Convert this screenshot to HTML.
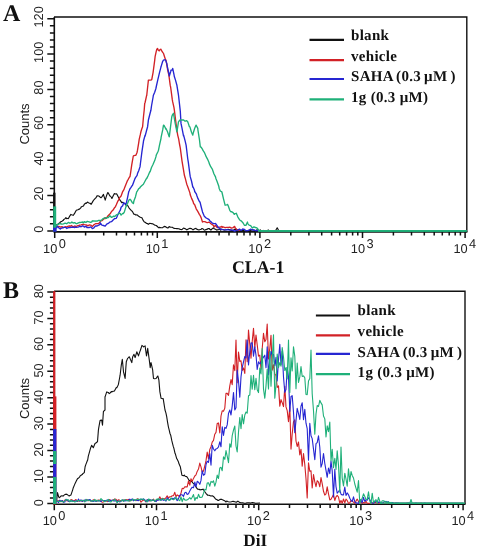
<!DOCTYPE html><html><head><meta charset="utf-8"><style>
html,body{margin:0;padding:0;background:#fff;width:478px;height:550px;overflow:hidden}
svg{display:block;will-change:transform}text{text-rendering:geometricPrecision}
.tl{font-family:"Liberation Sans",sans-serif;font-size:12.8px;fill:#222}
.cl{font-family:"Liberation Sans",sans-serif;font-size:13px;fill:#222}
.xl{font-family:"Liberation Sans",sans-serif;font-size:12.8px;fill:#222}
.ax{font-family:"Liberation Serif",serif;font-size:17px;font-weight:bold;fill:#111}
.pl{font-family:"Liberation Serif",serif;font-size:24px;font-weight:bold;fill:#111}
.lg{font-family:"Liberation Serif",serif;font-size:15px;font-weight:bold;fill:#111;letter-spacing:0.3px}
</style></head><body>
<svg width="478" height="550" viewBox="0 0 478 550">
<path d="M54 17 H466.8 V231.7" fill="none" stroke="#111" stroke-width="1.4"/>
<path d="M54.3 17 V231.9 H467.4" fill="none" stroke="#111" stroke-width="1.6"/>
<path d="M47.3 230.9H54.3M49.9 223.8H54.3M49.9 216.8H54.3M49.9 209.7H54.3M49.9 202.6H54.3M47.3 195.5H54.3M49.9 188.5H54.3M49.9 181.4H54.3M49.9 174.3H54.3M49.9 167.2H54.3M47.3 160.2H54.3M49.9 153.1H54.3M49.9 146H54.3M49.9 138.9H54.3M49.9 131.9H54.3M47.3 124.8H54.3M49.9 117.7H54.3M49.9 110.7H54.3M49.9 103.6H54.3M49.9 96.5H54.3M47.3 89.4H54.3M49.9 82.4H54.3M49.9 75.3H54.3M49.9 68.2H54.3M49.9 61.1H54.3M47.3 54.1H54.3M49.9 47H54.3M49.9 39.9H54.3M49.9 32.9H54.3M49.9 25.8H54.3M47.3 18.7H54.3" stroke="#111" stroke-width="1.5" fill="none"/>
<text x="0" y="0" transform="translate(43.4 229.1) rotate(-90)" text-anchor="middle" class="tl">0</text>
<text x="0" y="0" transform="translate(43.4 193.7) rotate(-90)" text-anchor="middle" class="tl">20</text>
<text x="0" y="0" transform="translate(43.4 158.4) rotate(-90)" text-anchor="middle" class="tl">40</text>
<text x="0" y="0" transform="translate(43.4 123) rotate(-90)" text-anchor="middle" class="tl">60</text>
<text x="0" y="0" transform="translate(43.4 87.6) rotate(-90)" text-anchor="middle" class="tl">80</text>
<text x="0" y="0" transform="translate(43.4 52.3) rotate(-90)" text-anchor="middle" class="tl">100</text>
<text x="0" y="0" transform="translate(43.4 16.9) rotate(-90)" text-anchor="middle" class="tl">120</text>
<text transform="translate(28.8 124) rotate(-90)" text-anchor="middle" class="cl">Counts</text>
<path d="M54.7 231.7v6.3M85.6 231.7v3.9M103.7 231.7v3.9M116.5 231.7v3.9M126.4 231.7v3.9M134.5 231.7v3.9M141.4 231.7v3.9M147.4 231.7v3.9M152.6 231.7v3.9M157.3 231.7v6.3M188.2 231.7v3.9M206.3 231.7v3.9M219.1 231.7v3.9M229 231.7v3.9M237.1 231.7v3.9M244 231.7v3.9M250 231.7v3.9M255.2 231.7v3.9M259.9 231.7v6.3M290.8 231.7v3.9M308.9 231.7v3.9M321.7 231.7v3.9M331.6 231.7v3.9M339.7 231.7v3.9M346.6 231.7v3.9M352.6 231.7v3.9M357.8 231.7v3.9M362.5 231.7v6.3M393.4 231.7v3.9M411.5 231.7v3.9M424.3 231.7v3.9M434.2 231.7v3.9M442.3 231.7v3.9M449.2 231.7v3.9M455.2 231.7v3.9M460.4 231.7v3.9M465.1 231.7v6.3" stroke="#111" stroke-width="1.5" fill="none"/>
<text x="57.3" y="252.8" text-anchor="end" class="xl">10</text>
<text x="58.7" y="247.60000000000002" class="xl">0</text>
<text x="159.9" y="252.8" text-anchor="end" class="xl">10</text>
<text x="161.3" y="247.60000000000002" class="xl">1</text>
<text x="262.5" y="252.8" text-anchor="end" class="xl">10</text>
<text x="263.9" y="247.60000000000002" class="xl">2</text>
<text x="365.1" y="252.8" text-anchor="end" class="xl">10</text>
<text x="366.5" y="247.60000000000002" class="xl">3</text>
<text x="467.7" y="252.8" text-anchor="end" class="xl">10</text>
<text x="469.1" y="247.60000000000002" class="xl">4</text>
<text x="258.2" y="272.6" text-anchor="middle" class="ax" style="font-size:17.8px">CLA-1</text>
<text x="3" y="20.7" class="pl">A</text>
<path d="M309.5 39.8H344" stroke="#111" stroke-width="2.2"/>
<text x="351" y="40.4" class="lg">blank</text>
<path d="M309.5 60.2H344" stroke="#d22126" stroke-width="2.2"/>
<text x="351" y="60.7" class="lg">vehicle</text>
<path d="M309.5 79.0H344" stroke="#2626d2" stroke-width="2.2"/>
<text x="351" y="81.1" class="lg" style="word-spacing:-1px">SAHA (0.3 μM )</text>
<path d="M309.5 99.4H344" stroke="#1fb079" stroke-width="2.2"/>
<text x="351" y="101.5" class="lg">1g (0.3 μM)</text>
<path d="M54 291.2 H465 V504" fill="none" stroke="#111" stroke-width="1.4"/>
<path d="M54.3 291.2 V504.2 H465.6" fill="none" stroke="#111" stroke-width="1.6"/>
<path d="M47.3 503.4H54.3M49.9 498.1H54.3M49.9 492.8H54.3M49.9 487.5H54.3M49.9 482.3H54.3M47.3 477H54.3M49.9 471.7H54.3M49.9 466.4H54.3M49.9 461.1H54.3M49.9 455.8H54.3M47.3 450.5H54.3M49.9 445.3H54.3M49.9 440H54.3M49.9 434.7H54.3M49.9 429.4H54.3M47.3 424.1H54.3M49.9 418.8H54.3M49.9 413.6H54.3M49.9 408.3H54.3M49.9 403H54.3M47.3 397.7H54.3M49.9 392.4H54.3M49.9 387.1H54.3M49.9 381.8H54.3M49.9 376.6H54.3M47.3 371.3H54.3M49.9 366H54.3M49.9 360.7H54.3M49.9 355.4H54.3M49.9 350.1H54.3M47.3 344.8H54.3M49.9 339.6H54.3M49.9 334.3H54.3M49.9 329H54.3M49.9 323.7H54.3M47.3 318.4H54.3M49.9 313.1H54.3M49.9 307.9H54.3M49.9 302.6H54.3M49.9 297.3H54.3M47.3 292H54.3" stroke="#111" stroke-width="1.5" fill="none"/>
<text x="0" y="0" transform="translate(43.4 502.6) rotate(-90)" text-anchor="middle" class="tl">0</text>
<text x="0" y="0" transform="translate(43.4 476.2) rotate(-90)" text-anchor="middle" class="tl">10</text>
<text x="0" y="0" transform="translate(43.4 449.7) rotate(-90)" text-anchor="middle" class="tl">20</text>
<text x="0" y="0" transform="translate(43.4 423.3) rotate(-90)" text-anchor="middle" class="tl">30</text>
<text x="0" y="0" transform="translate(43.4 396.9) rotate(-90)" text-anchor="middle" class="tl">40</text>
<text x="0" y="0" transform="translate(43.4 370.5) rotate(-90)" text-anchor="middle" class="tl">50</text>
<text x="0" y="0" transform="translate(43.4 344) rotate(-90)" text-anchor="middle" class="tl">60</text>
<text x="0" y="0" transform="translate(43.4 317.6) rotate(-90)" text-anchor="middle" class="tl">70</text>
<text x="0" y="0" transform="translate(43.4 291.2) rotate(-90)" text-anchor="middle" class="tl">80</text>
<text transform="translate(28.8 398.5) rotate(-90)" text-anchor="middle" class="cl">Counts</text>
<path d="M54.3 504v6.3M85.1 504v3.9M103.1 504v3.9M115.8 504v3.9M125.7 504v3.9M133.8 504v3.9M140.7 504v3.9M146.6 504v3.9M151.8 504v3.9M156.5 504v6.3M187.3 504v3.9M205.3 504v3.9M218 504v3.9M227.9 504v3.9M236 504v3.9M242.9 504v3.9M248.8 504v3.9M254 504v3.9M258.7 504v6.3M289.5 504v3.9M307.5 504v3.9M320.2 504v3.9M330.1 504v3.9M338.2 504v3.9M345.1 504v3.9M351 504v3.9M356.2 504v3.9M360.9 504v6.3M391.7 504v3.9M409.7 504v3.9M422.4 504v3.9M432.3 504v3.9M440.4 504v3.9M447.3 504v3.9M453.2 504v3.9M458.4 504v3.9M463.1 504v6.3" stroke="#111" stroke-width="1.5" fill="none"/>
<text x="56.9" y="525.0" text-anchor="end" class="xl">10</text>
<text x="58.3" y="519.8" class="xl">0</text>
<text x="159.1" y="525.0" text-anchor="end" class="xl">10</text>
<text x="160.5" y="519.8" class="xl">1</text>
<text x="261.3" y="525.0" text-anchor="end" class="xl">10</text>
<text x="262.7" y="519.8" class="xl">2</text>
<text x="363.5" y="525.0" text-anchor="end" class="xl">10</text>
<text x="364.9" y="519.8" class="xl">3</text>
<text x="465.7" y="525.0" text-anchor="end" class="xl">10</text>
<text x="467.1" y="519.8" class="xl">4</text>
<text x="255.2" y="545.7" text-anchor="middle" class="ax" style="font-size:17.2px">DiI</text>
<text x="3" y="297.9" class="pl">B</text>
<path d="M315.9 315.5H350" stroke="#111" stroke-width="2.2"/>
<text x="357.6" y="315.4" class="lg">blank</text>
<path d="M315.9 335.3H350" stroke="#d22126" stroke-width="2.2"/>
<text x="357.6" y="335.7" class="lg">vehicle</text>
<path d="M315.9 353.9H350" stroke="#2626d2" stroke-width="2.2"/>
<text x="357.6" y="357.3" class="lg" style="word-spacing:-1px">SAHA (0.3 μM )</text>
<path d="M315.9 374.2H350" stroke="#1fb079" stroke-width="2.2"/>
<text x="357.6" y="376.9" class="lg">1g (0.3 μM)</text>
<rect x="53.1" y="192.7" width="2.4" height="38.5" fill="#111"/>
<polyline points="55.5,224.8 55.5,224.8 57.1,224.6 57.5,224.4 58.7,223.5 60,222.8 60.3,222.1 61.9,221.2 63.4,220.3 63.5,219.7 65.1,218.6 65.9,217.7 66.7,218.7 68.3,218.3 68.4,218.6 69.9,215.8 70.9,214.4 71.5,214.8 73.1,215.3 73.4,215.2 74.7,213.1 75.9,211 76.3,210.3 77.9,209.8 78.5,209.4 79.5,209.1 81,207.7 81.1,207 82.7,206.3 83.5,206 84.3,204.2 85.9,203 86,203.5 87.5,202.1 88.5,202.7 89.1,203 90.7,203.6 91,204.4 92.3,202.4 93.5,200.2 93.9,199.9 95.5,198.1 96,197.7 97.1,195.7 98.5,196 98.7,195.9 100.3,197.2 101,197.7 101.9,196.9 103.5,194.4 103.6,195.1 105.1,199.6 105.2,200.2 106.7,195.2 107.7,192.6 108.3,193 109.9,196 110.3,196 111.5,197.5 111.9,198.5 113.1,196.1 114.4,193.5 114.7,194 116.3,193.8 116.9,194.3 117.9,196.2 119.5,199.3 119.5,199.4 121.1,201.7 121.7,202.6 122.7,202.3 124.3,203.3 125,203.5 125.9,205.1 127.5,205.2 128.4,206.8 129.1,208.1 130.7,209.8 131.7,211 132.3,211.3 133.9,214.2 135.1,214.4 135.5,215 137.1,214.8 138.4,216 138.7,216.2 140.3,217.2 141.8,217.7 141.9,217.8 143.5,220.9 144.3,221.9 145.1,222.3 146.7,223.5 147.6,223.6 148.3,224.3 149.9,223.3 151.5,223.7 151.8,223.6 153.1,224 154.7,225.1 155.1,225.2 156.3,225.5 157.9,227 158.5,227.7 159.5,227.4 161.1,227.7 162.7,227.6 163.5,226.9 164.3,226.4 165.9,226.9 167.5,227.9 168.5,227.7 169.1,226.6 170.7,227.2 172,227.2 172.3,227.2 173.9,228.4 175.5,228.5 176.9,228.6 177.1,228.5 178.7,228.8 180.3,229.4 180.3,229.3 181.9,229.6 183.5,228.1 184,228.2 185.1,228.6 186.7,229.8 187,229.8 188.3,229.1 189.9,228.3 190,228.4 191.5,228.6 193,229.9 193.1,229.8 194.7,228.8 196,228.3 196.3,229 197.9,229.6 199,229.9 199.5,229.7 201.1,229.3 202,228.5 202.7,228.7 204.3,230.2 205,230 205.9,229.6 207.5,229.1 208,228.6 209.1,228.5 210.7,230 211,230 212.3,228.6 213.9,227.8 214,228.8 215.5,229.3 217,230.2 217.1,229.7 218.7,229.6 220,229 220.3,230.2 221.9,229.2 223.5,229.7 224,230.2 225.1,230 226.7,229.8 228,229.2 228.3,229.2 229.9,229.7 231.5,230.6 232,230.4 233.1,230.4 234.7,229.3 236,229.5 236.3,229.5 237.9,230 239.5,229.9 240,230.6 241.1,230.7 242.7,230.1 244.3,231 245.9,230.6 246,230.5 247.5,230.6 249.1,230.3 250.7,230.6 252.3,229.7 253.9,230.2 255,230.8 255.5,231 257.1,229.7 258.7,231.2 260.3,229.9 261.9,231.2 263.5,230.4 265.1,231.2 266.7,230.9 268.3,230 269.9,231.4 275.5,230.8 277.2,227.8 278.8,230.8 290,231" fill="none" stroke="#111" stroke-width="1.15" stroke-linejoin="round" opacity="1"/>
<polyline points="55.5,226.5 55.5,227.4 56.7,226.1 57.1,226.2 58.7,226.4 60.3,226.9 61,227.2 61.9,226.6 63.5,227.8 65.1,226.7 66.7,227 66.7,227 68.3,226.2 69.9,225.9 70,226.3 71.5,225.5 73.1,226.9 74.7,226 75.1,226.1 76.3,226.5 77.9,225.7 79,225.6 79.5,225.1 81.1,224.8 82.7,224.3 83.5,224.4 84.3,224.7 85.9,224.9 87.5,225.5 88,225.8 89.1,224.9 90.7,225.1 92.3,226.4 93.5,225.3 93.9,224.7 95.5,223.7 97,223.6 97.1,223.7 98.7,223.5 100.2,221.9 100.3,221 101.9,220.7 103.5,219.3 105.1,217.6 105.2,218.6 106.7,217.6 108.3,215.5 109.9,214 110.3,213.6 111.5,211.5 113.1,210.1 114.7,207.4 115.3,206.9 116.3,204.8 117.9,201 118.6,200.2 119.5,197.7 121.1,196 122.7,191.6 123.6,190.1 124.3,188.6 125.9,184.6 127.5,180.5 127.8,180.1 129.1,177.7 130,176.5 130.7,172.2 131.7,165.2 132.3,161.6 133.3,156 133.9,155.7 135.5,155.3 135.9,155.2 137.1,152.2 137.5,150.2 138.7,142.9 139.2,139.3 140.3,134.7 140.9,131.8 141.9,128.5 142.6,126.7 143.5,116.5 144.2,110 144.7,103.6 145.1,102.5 146.7,95.2 146.7,95.8 148.3,81 148.4,80.2 149.9,80.1 151.5,79.8 151.8,79.3 153.1,72.3 153.4,70.1 154.7,60.4 155.1,56.7 156.3,51.1 156.8,49.2 157.6,48.4 157.9,49.8 159.3,50.9 159.5,50 161,49.2 161.1,49.9 162.7,52.4 163.5,53.4 164.3,56 165.9,60.9 166,60 167.5,69 168.5,73.5 169.1,76.9 170.2,85.2 170.7,87.5 172.3,99.7 172.7,101.9 173.9,107.2 174.4,110.3 175.5,119.3 176,123.4 177.1,131.5 177.7,135.1 178.7,139.1 179.4,143.5 180.3,148.2 181.9,160.2 181.9,160.4 183.5,169.9 184.4,175.3 185.1,177.7 186.7,183.8 186.9,184.5 188.3,188.3 189.9,192.9 190.3,195.1 191.5,198.1 193.1,201.6 193.6,203.5 194.7,204.7 196.3,209.1 197,210.2 197.9,211.7 199.5,214.6 200,215.2 201.1,217.6 202.5,222 202.7,221.6 204.3,221.6 205.9,221.8 206,222.3 207.5,222.6 209.1,222.2 210,222.8 210.7,223.5 212.3,224.7 213.4,225.3 213.9,226.8 215.5,225.5 216.7,227 217.1,227.6 218.7,227.1 220.3,227.2 221.9,226.4 222,227.3 223.5,227 225.1,227.7 226.7,227.3 228.3,227.3 229.9,227.1 230.1,227.3 231.5,228.1 233.1,227.6 234.7,226.4 235.1,227.8 236.3,228.9 236.8,230 240,230.4" fill="none" stroke="#d22126" stroke-width="1.35" stroke-linejoin="round" opacity="1"/>
<polyline points="55.5,228.3 55.5,227.1 56.7,227.8 57.1,225.9 58.7,227.7 60.3,229 61,228.3 61.9,228.2 63.5,227.4 65.1,227.4 66.7,227.8 66.7,228.5 68.3,227.7 69.9,227.5 71,227.3 71.5,227.2 73.1,227.2 74.7,227.5 75.1,227 76.3,227.3 77.9,227.1 79,226.9 79.5,226.2 81.1,226.8 82.7,225.8 83.5,226.1 84.3,227.1 85.9,226.3 87,227.5 87.5,227.4 89.1,227.6 90.7,226.9 91.8,227.8 92.3,228.6 93.9,227.8 95.5,225.9 96,226 97.1,226 98.7,225.2 100.2,224.4 100.3,222.9 101.9,225.1 103.5,225.5 105.1,226.1 105.2,226.1 106.7,224.2 108.3,223.4 109.9,222.1 110.3,221.9 111.5,221.7 113.1,220 114.7,218.6 116.3,218.3 116.9,216.9 117.9,214.6 119.5,211.5 120.3,210.2 121.1,207.3 122.7,205.7 123.6,202.7 124.3,203.5 125.9,204 126.2,203.5 127.5,197.8 128.7,191.8 129.1,190.9 130,188.7 130.7,187.9 132.3,185.4 132.5,185.3 133.9,181.4 135,178.6 135.5,177.6 137.1,175.3 137.5,173.6 138.7,170.7 140,166.9 140.3,164.5 141.7,153.5 141.9,151.8 143.4,141.8 143.5,141 145.1,135.1 145.1,136.1 146.7,130 147.6,126.7 148.3,120.9 148.4,120 149.9,114 150.9,110.3 151.5,106 153.1,97 153.4,95.2 154.7,92.2 155.9,88.5 156.3,86.5 157.9,79.4 158.5,76.8 159.5,72.7 161,66.8 161.1,66.6 162.7,61.3 163.5,60.1 164.3,59.8 165.1,59.7 165.9,60.9 166.8,63.4 167.5,67.5 169.1,74.5 169.3,76 170.7,71.5 171,70.1 172.3,69.8 172.7,68.5 173.9,74.2 174.4,76.8 175.5,80.1 176.9,85.2 177.1,86.6 178.5,95.2 178.7,97 180.2,110.3 180.3,111.3 181,123.4 181.9,127.7 183.5,135.9 183.6,135.1 185.1,140.9 186.1,145.1 186.7,150 187.7,158.5 188.3,162.1 189.9,174.3 190.3,176.9 191.5,181 192.8,187 193.1,186.9 194.4,190 194.7,191.5 196.3,193.8 197,196 197.9,198.4 199.5,201.8 200,201.9 201.1,206.5 202.5,211.9 202.7,212.6 204.3,216.2 205.9,217.8 205.9,217.7 207.5,218.7 209.1,219.6 210,221.1 210.7,221.5 212.3,223.1 213.9,223.6 215.1,223.6 215.5,223.5 217.1,225.6 218.4,227.8 218.7,227.6 220.3,228.9 221.8,229.5 221.9,229.4 223.5,229.7 225.1,229.9 226.7,229.6 228.3,229.9 229.9,230.1 230,230 231.5,230 233.1,230.3 234.7,231.2 236.3,230.4 237.9,230.1 239.5,229.1 241.1,230.4 242.7,229 244.3,229.3 245.9,230.7 247.5,230.6 249.1,230.1 250.7,229.2 252.3,230 253.9,229.9 255.5,230.7 257.7,230.3 259,231" fill="none" stroke="#2626d2" stroke-width="1.35" stroke-linejoin="round" opacity="1"/>
<polyline points="55.5,224.8 55.5,226.2 57.1,224.7 58.4,224.4 58.7,223.9 60.3,223.6 61.9,224.2 62,224.2 63.5,223.9 65.1,223.1 66.7,223.6 66.7,223.7 68.3,222.4 69.9,223.2 71.5,222.6 71.8,221.9 73.1,223 74.7,222.6 76.3,223.7 76.8,223.6 77.9,223.1 79.5,222.4 80,222.5 81.1,222.4 82.7,222 83.5,222.8 84.3,221.6 85.9,222.4 87,221.5 87.5,221.4 89.1,221.8 90.7,222.4 91.8,221.9 92.3,220.8 93.9,221 95.5,221.2 96,221 97.1,221.1 98.7,220.3 100.2,220.3 100.3,220.9 101.9,219.8 103.5,218.3 105.1,217.8 106.7,218.3 106.9,217.7 108.3,217.6 109.9,215.8 111.5,217.4 113.1,216.6 113.6,216.1 114.7,216.5 116.3,214.9 117.9,214.3 119.5,213.2 120.3,213.6 121.1,215.1 122.7,213.4 123.3,213.5 124.3,212.1 125.9,206.9 127.5,203.5 127.5,203.6 129.1,199.8 130,199.3 130.7,199.9 132.3,202.7 133.4,203.5 133.9,201 135.5,196.7 136.7,191.8 137.1,191.5 138.7,188.7 140.1,187.6 140.3,187.1 141.9,185.5 143.4,184.2 143.5,184 145.1,181 146.7,178.1 146.8,178.4 148.3,175.2 149.9,171.5 150.1,171.7 151.5,167.5 153.1,164.3 153.4,163.6 154.7,160.6 155.9,156.9 156.3,155 157.9,151.7 158.5,150.2 159.5,145.1 161,138.5 161.1,137.4 162.7,129.9 163.5,125.1 164.3,125.8 165.9,129.2 166,128.4 167.5,131.8 169.1,136.5 169.3,136.8 170.7,125.4 171.8,116.7 172.3,115.2 173.5,113.3 173.9,116 175.2,123.4 175.5,124.8 176.9,131.8 177.1,130.9 178.5,121.7 178.7,121.5 180.3,119.8 181,120 181.9,119.9 183.5,120 183.6,120 185.1,121.2 186.7,120.7 187.7,121.7 188.3,123.4 189.4,126.7 189.9,126.9 191.5,132.3 192.8,135.1 193.1,133.5 194.7,128.3 196.1,125.1 196.3,125.5 197.8,128.4 197.9,129.8 199.5,140 200.3,146.8 201.1,147.2 202.7,149.6 202.8,150.2 204.3,152.3 205.9,155.9 205.9,156.1 207.5,159.1 209.1,162.7 209.2,163.4 210.7,166.7 212.3,169.1 212.6,170.1 213.9,173.7 215.5,176.9 215.9,178.5 217.1,181.4 218.7,185.9 219.2,188.5 220.3,191 221.8,191.8 221.9,192 223.5,198.8 225.1,205.2 225.1,205.2 226.7,204.8 227.6,204.4 228.3,206 229.9,210.6 231,211.9 231.5,211.7 233.1,212.6 234.3,214.4 234.7,213.6 236,213.6 236.3,213.3 237.9,217.1 239.5,219.7 240.2,220.3 241.1,220.8 242.7,222.4 244.3,225 244.4,225.3 245.9,225.4 247.5,222 247.7,223.6 249.1,225.1 250.7,225.6 251.9,227.3 252.3,228 253.9,226.9 255.5,227.5 256.9,227.8 259.4,231 466.5,231" fill="none" stroke="#1fb079" stroke-width="1.35" stroke-linejoin="round" opacity="1"/>
<path d="M258 230.9H466.8" stroke="#1fb079" stroke-width="1.6"/>
<rect x="53.2" y="206.4" width="3.0" height="25" fill="#1fb079"/>
<rect x="53.1" y="227.7" width="3.5" height="4" fill="#2626d2"/>
<rect x="53.1" y="291.2" width="2.2" height="213" fill="#d22126"/>
<polyline points="55.5,501.5 55.5,500.9 56.7,501 57.1,496.4 57.5,492.6 58.7,496.8 59.2,497.7 60.3,496.9 60.9,496 61.9,495.8 63.4,496 63.5,495.6 65.1,494.4 66.7,494.3 66.7,494.1 68.3,495.4 69.2,496 69.9,495.6 70.9,495.1 71.5,493.3 72.6,490.1 73.1,488.3 74.7,484.4 75.1,483.4 76.3,481 77.6,478.4 77.9,478.6 79.5,477.2 80.1,475.9 81.1,475.2 82.6,474.2 82.7,473.8 84.3,472.6 84.3,472.6 85.1,466.7 85.9,464.4 87.5,460.2 87.7,460 88.3,456.1 89.1,453.3 90,450.2 90.7,447.7 91.7,445.2 92.3,446.4 93.3,447.7 93.9,446.2 95,443.5 95.5,443.3 97.1,442 97.5,441.8 98.4,430.1 98.7,428.1 100,420.9 100.3,420.4 101.7,420.1 101.9,421.3 102.5,425.1 103.4,411.7 103.5,411.4 105,410 105,397 105.1,396.8 106.7,391.9 106.7,391.9 108.3,392.4 109.2,393.6 109.9,393.2 111.5,391.5 111.7,391.9 113.1,391.2 114.3,391.1 114.7,390.4 116.3,387.5 116.8,387.7 117.9,385.5 118.4,384.4 119.5,378.5 120.1,375.2 121.1,366.7 121.3,365.1 122.3,359.3 122.7,363.3 123.5,371.8 124.3,375 125.1,378.5 125.9,367 126.3,361.8 127.5,358.6 127.6,358.5 129.1,356.8 129.3,356.8 130.7,360.1 131.8,362.6 132.3,358.9 132.7,356.8 133.9,354.6 134,354.3 135.1,357.6 135.5,356.3 136.8,351.8 137.1,352.5 138.5,355.9 138.7,355.1 140.1,350.9 140.3,350.5 141.8,345.9 141.9,345.3 143.5,346.7 143.5,346.9 145.1,345.9 145.1,346 146.5,355.9 146.7,354.8 147.7,348.4 148.3,352.9 149.3,360.1 149.9,364.9 150.2,367.7 151,362.6 151.5,364.7 152.7,370.2 153.1,374.6 153.5,378.5 154.7,378.7 156,378.5 156.3,378.1 157.7,376 157.9,376.1 158.9,380.2 159.5,387.4 159.9,391.9 161,397.8 161.1,398.3 162.7,398.8 163.2,398.6 164.3,405.7 165,410 165.9,412.9 166.7,416.7 167.5,421.8 168.4,426.8 169.1,429.7 170,433.5 170.7,435.2 171.7,440.2 172.3,442.7 173.4,446.9 173.9,448.3 175.1,453.6 175.5,454.3 176.7,458.6 177.1,459.1 178.5,462 178.7,463 180.3,466.8 180.3,466.7 181.9,475.1 181.9,475.2 183.5,475.8 184.4,475.1 185.1,476.2 186.7,476.6 186.9,476.8 188.3,479 189.5,481 189.9,480.6 191.5,481.4 192,481.8 193.1,483.1 194.5,484.4 194.7,484.9 196.3,487.4 197,488.5 197.9,489.3 199.5,489.4 200,490 201.1,489.6 202.7,489.4 203,489 204.3,491 205.9,493.3 207.5,495 207.5,495.2 209.1,495.2 210.7,495.9 212,496 212.3,495.8 213.9,496.8 215.5,498.9 217.1,499.8 218,500.5 218.7,500.4 220.3,499.2 221.9,499.4 222,499.5 223.5,500.2 225.1,501.1 226,502 226.7,501 228.3,501.7 229.9,502 231.5,501.7 232,501.5 233.1,501.4 234.7,501.8 236.3,502.3 237.9,501.1 239.5,502.4 240,502.5 241.1,502.7 242.7,502.8 244.3,503.3 245.9,503.1 247.5,502.8 249.1,502.8 250.7,503.1 252.3,502.6 253.9,502.8 255.5,503.2 260,503" fill="none" stroke="#111" stroke-width="1.1" stroke-linejoin="round" opacity="1"/>
<polyline points="56,502.2 57.2,500.7 58.5,500.7 59.8,500.9 61,501.8 62.2,500.7 63.5,501.9 64.8,500 66,500.6 67.2,500.6 68.5,501.3 69.8,501.5 71,499.6 72.2,500 73.5,500.9 74.8,500.2 76,499.5 77.2,501.4 78.5,501 79.8,501 81,500.3 82.2,501.4 83.5,500.4 84.8,501.4 86,499.9 87.2,499.9 88.5,500.7 89.8,500 91,501.1 92.2,500.8 93.5,499.8 94.8,500.6 96,500.3 97.2,501.2 98.5,500 99.8,500.2 101,501.4 102.2,502.2 103.5,502 104.8,500.5 106,500.6 107.2,501.6 108.5,500.3 109.8,499.6 111,500.5 112.2,500.7 113.5,499.7 114.8,499 116,499.2 117.2,500.9 118.5,499.7 119.8,500.2 121,500.5 122.2,500.8 123.5,500 124.8,500.7 126,499.5 127.2,499.9 128.5,499.4 129.8,501.1 131,500.2 132.2,499.6 133.5,499.9 134.8,500 136,500.7 137.2,498.8 138.5,499.3 139.8,499.8 141,502.2 142.2,500.9 143.5,500 144.8,500.7 146,501.8 147.2,499.8 148.5,499.7 149.8,501 151,500.3 152.2,500.3 153.5,499.1 154.8,501.2 156,500.9 157.2,499.6 158.5,499.6 159.8,496.7 161,499.3 162.2,498.3 163.5,498.8 164.8,498.9 166,497.6 167.2,495.9 168.5,498.1 169.8,496.7 171,496.7 172.2,495.8 173.5,495.6 174.8,492.3 176,496.8 177.2,494.9 178.5,495.8 179.8,496.8 181,493 182.2,488.3 183.5,488.7 184.8,486.7 186,486.9 187.2,486.9 188.5,480.8 189.8,485.1 191,478.7 192.2,481.4 193.5,478.4 194.8,476 196,474.8 197.2,471.4 198.5,469.1 199.8,463.1 201,466.9 202.2,472.2 203.5,471 204.8,466 206,460.7 207.2,452.1 208.5,458.8 209.8,449.4 211,446.7 212.2,442.1 213.5,440.4 214.8,434.2 216,432.4 217.2,423.5 218.5,422.9 219.8,433 221,416 222.2,410.8 223.5,411.2 224.8,408.1 226,393.3 227.2,393.4 228.5,395.4 229.8,385.9 231,379.5 232.2,384.6 233.5,364.9 234.8,370.7 236,340 237.2,382.7 238.5,352 239.8,361.4 241,360.8 242.2,370.5 243.5,367.9 244.8,373.4 246,339.9 247.2,361.7 248.5,330 249.8,344.5 251,358.1 252.2,341.6 253.5,328.4 254.8,347.8 256,335 257.2,344.6 258.5,356.1 259.8,355.1 261,369.2 262.2,348.7 263.5,333.3 264.8,341.8 266,339.6 267.2,324 268.5,359 269.8,348.6 271,335.2 272.2,370.1 273.5,364.7 274.8,374.2 276,375.3 277.2,387.4 278.5,385.9 279.8,406.1 281,399.6 282.2,402.7 283.5,406.6 284.8,386.2 286,406.9 287.2,410.6 288.5,421.7 289.8,406.7 291,449.1 292.2,434 293.5,421.7 294.8,419.9 296,441 297.2,446.5 298.5,442 299.8,455 301,449.2 302.2,466.3 303.5,453.6 304.8,464.6 306,478.7 307.2,498 308.5,462.8 309.8,471.3 311,470.8 312.2,488 313.5,474.5 314.8,481.9 316,486.6 317.2,480.7 318.5,482.1 319.8,486.8 321,477.6 322.2,483.7 323.5,491.3 324.8,495.1 326,493.9 327.2,486.9 328.5,493.8 329.8,499.9 331,499.3 332.2,497.1 333.5,494.5 334.8,500.5 336,496.8 337.2,495.4 338.5,497 339.8,503.4 341,500.5 342.2,503.3 343.5,499 344.8,502.9 346,499.1 347.2,500.5 348.5,503.4 349.8,502.8 351,500.4 352.2,501.3 353.5,502.1 354.8,503.4 356,500.9 357.2,499.1 358.5,501.4 359.8,501.9 361,502.1 362.2,503.4 363.5,502.5 364.8,503.1 366,501.2 367.2,503.2 368.5,503.4 369.8,503.2 371,502.8 372.2,502.8 373.5,503.4 374.8,502.2 376,502.7 377.2,503.1 378.5,503.3 379.8,502.8 381,503.1 382.2,503 383.5,503.2 384.8,503.2 386,503 387.2,503.2 388.5,503.4 389.8,503 391,503.2 392.2,503.3 393.5,503 394.8,503.3 396,503.1 397.2,503.4 398.5,503.4 399.8,503.4 401,503.2 402.2,503.4 403.5,503.3 404.8,503.3 406,503.4 407.2,503.1 408.5,503.4 409.8,503.3 411,503.4 412.2,503.3 413.5,503.2 414.8,503.3 416,503.4 417.2,503.3 418.5,503.3 419.8,503.2 421,503.1 422.2,503.4 423.5,503.4 424.8,503.3 426,503.3 427.2,503.4 428.5,503.3 429.8,503.3 431,503.3 432.2,503.4 433.5,503.2 434.8,503.4 436,503.3 437.2,503.3 438.5,503.4 439.8,503.3 441,503.3 442.2,503.3 443.5,503.4 444.8,503.4 446,503.3 447.2,503.4 448.5,503.4 449.8,503.3 451,503.4 452.2,503.4 453.5,503.4 454.8,503.4 456,503.4 457.2,503.4 458.5,503.4 459.8,503.4 461,503.4 462.2,503.4 463.5,503.4" fill="none" stroke="#d22126" stroke-width="1.1" stroke-linejoin="round" opacity="1"/>
<polyline points="56,501.7 57.2,501.2 58.5,502.5 59.8,500.2 61,501.4 62.2,500.5 63.5,502.2 64.8,502 66,499.3 67.2,500 68.5,501.3 69.8,501.3 71,501.3 72.2,500.7 73.5,501.1 74.8,501.2 76,500.7 77.2,501.5 78.5,499 79.8,501.2 81,499.9 82.2,501.4 83.5,500.5 84.8,500 86,501 87.2,500 88.5,500 89.8,499.5 91,500.7 92.2,501.1 93.5,501.5 94.8,500.6 96,501.5 97.2,500.7 98.5,500.6 99.8,501.1 101,501.5 102.2,500.4 103.5,500.5 104.8,500.5 106,500.7 107.2,499.9 108.5,501.4 109.8,500.3 111,501 112.2,500 113.5,500.9 114.8,500.9 116,500.3 117.2,502.2 118.5,500.9 119.8,502 121,501.3 122.2,500.1 123.5,500.3 124.8,500.9 126,500.6 127.2,500.6 128.5,500.3 129.8,499.2 131,500.4 132.2,498.8 133.5,500.8 134.8,500 136,500 137.2,500.4 138.5,500.7 139.8,499.4 141,499.2 142.2,499.7 143.5,498.9 144.8,499.8 146,501.8 147.2,499.7 148.5,501 149.8,499.4 151,500.7 152.2,500.1 153.5,500.2 154.8,500.7 156,501.6 157.2,500.2 158.5,500.1 159.8,499.1 161,500.3 162.2,499.5 163.5,500.4 164.8,499.6 166,501.1 167.2,497.7 168.5,499.1 169.8,500.1 171,498.9 172.2,498.4 173.5,498.8 174.8,497.7 176,498.6 177.2,500.6 178.5,498.6 179.8,495.2 181,494.8 182.2,494.8 183.5,496.3 184.8,492.8 186,492.3 187.2,494.4 188.5,493.8 189.8,490.9 191,488.8 192.2,487.2 193.5,487.7 194.8,482 196,486.8 197.2,481.3 198.5,482.2 199.8,484.3 201,480.4 202.2,470.7 203.5,475.3 204.8,474.3 206,464.6 207.2,461.2 208.5,462.4 209.8,453.5 211,465.3 212.2,445.2 213.5,449 214.8,450.8 216,448.9 217.2,448.5 218.5,446.8 219.8,441.9 221,446.8 222.2,426.7 223.5,435.4 224.8,427.4 226,428.3 227.2,424.9 228.5,413.4 229.8,410 231,415 232.2,406.1 233.5,392.5 234.8,409.9 236,407.7 237.2,370.1 238.5,381 239.8,397.1 241,376.9 242.2,367.8 243.5,361.8 244.8,356.5 246,358 247.2,340 248.5,365 249.8,351.6 251,343 252.2,342.8 253.5,356.2 254.8,346.8 256,355.2 257.2,369.5 258.5,361.9 259.8,363.8 261,362.3 262.2,359.1 263.5,357.1 264.8,355.2 266,367.8 267.2,346.7 268.5,374.9 269.8,360 271,351.2 272.2,354.7 273.5,354.3 274.8,365.8 276,357.3 277.2,381 278.5,360 279.8,344.2 281,364.6 282.2,351.3 283.5,377 284.8,392.4 286,389.6 287.2,367.4 288.5,376.9 289.8,411.4 291,396.5 292.2,395.7 293.5,412.1 294.8,432.7 296,420.6 297.2,408.3 298.5,413.6 299.8,419.5 301,406.1 302.2,402.8 303.5,419.7 304.8,409.4 306,423.2 307.2,428.6 308.5,460.2 309.8,423.3 311,435.8 312.2,438.6 313.5,449.1 314.8,459.6 316,443.7 317.2,442.7 318.5,435.8 319.8,447.2 321,467.2 322.2,463.6 323.5,453.5 324.8,463.5 326,470.3 327.2,477.3 328.5,468 329.8,473.6 331,461.1 332.2,470.6 333.5,496.9 334.8,469.3 336,486.6 337.2,493.2 338.5,491.6 339.8,489.8 341,494.2 342.2,494.9 343.5,494.9 344.8,487 346,495.5 347.2,492.9 348.5,494.8 349.8,498.3 351,500.3 352.2,501.5 353.5,496.9 354.8,501.9 356,502.9 357.2,502.9 358.5,503.4 359.8,499.7 361,499.9 362.2,502.7 363.5,497.3 364.8,501.4 366,499.8 367.2,500.3 368.5,497.7 369.8,499.7 371,501.5 372.2,503.1 373.5,503.3 374.8,501.7 376,501.6 377.2,500.9 378.5,502.6 379.8,501.9 381,502.9 382.2,503.4 383.5,502.4 384.8,501.2 386,501.9 387.2,501.7 388.5,502 389.8,503.4 391,503 392.2,502.5 393.5,503.3 394.8,503.4 396,503.1 397.2,503.1 398.5,503.1 399.8,503.3 401,503.3 402.2,503.4 403.5,503.4 404.8,503.4 406,503.4 407.2,503.3 408.5,503 409.8,503.2 411,503.3 412.2,503.2 413.5,503.4 414.8,503.2 416,503.1 417.2,503.4 418.5,503.4 419.8,503.3 421,503.4 422.2,503.4 423.5,503.3 424.8,503 426,503.2 427.2,503.2 428.5,503.2 429.8,503.3 431,503.4 432.2,503.3 433.5,503.2 434.8,503.4 436,503.3 437.2,503.2 438.5,503.3 439.8,503.4 441,503.3 442.2,503.4 443.5,503.3 444.8,503.3 446,503.4 447.2,503.4 448.5,503.3 449.8,503.4 451,503.4 452.2,503.4 453.5,503.3 454.8,503.4 456,503.4 457.2,503.4 458.5,503.4 459.8,503.4 461,503.4 462.2,503.4 463.5,503.4" fill="none" stroke="#2626d2" stroke-width="1.1" stroke-linejoin="round" opacity="1"/>
<polyline points="56,500.4 57.2,501.2 58.5,501.2 59.8,501.8 61,501.1 62.2,501.6 63.5,501.9 64.8,500.9 66,499.6 67.2,499.9 68.5,499.7 69.8,501.9 71,500.1 72.2,501.6 73.5,501.1 74.8,502 76,501.5 77.2,500.6 78.5,500.5 79.8,500.7 81,500.8 82.2,500.3 83.5,500.6 84.8,501.9 86,499.3 87.2,500.8 88.5,499.9 89.8,500.8 91,501.3 92.2,500.6 93.5,501.2 94.8,499.4 96,501.4 97.2,500.1 98.5,501.1 99.8,500.7 101,498.6 102.2,500 103.5,500.7 104.8,501.7 106,500.8 107.2,500.7 108.5,499.4 109.8,501.6 111,501.9 112.2,500.5 113.5,500.3 114.8,499.2 116,501.2 117.2,502.6 118.5,501 119.8,501.5 121,500.9 122.2,499.7 123.5,501.5 124.8,499.5 126,500.3 127.2,500.6 128.5,501.1 129.8,500.7 131,500.7 132.2,499.8 133.5,499.4 134.8,500.4 136,499.8 137.2,499.3 138.5,499.3 139.8,500 141,498.9 142.2,499.3 143.5,499 144.8,500.5 146,500.6 147.2,501.9 148.5,499.1 149.8,499.8 151,501 152.2,500 153.5,499.9 154.8,501.5 156,499.8 157.2,499.1 158.5,498.9 159.8,500.2 161,500.2 162.2,498.7 163.5,498.9 164.8,500.2 166,500.2 167.2,499.1 168.5,500.2 169.8,500.1 171,497.9 172.2,499.2 173.5,499.8 174.8,498.8 176,497.3 177.2,499 178.5,499.9 179.8,500.7 181,497 182.2,501.6 183.5,498 184.8,499.9 186,500.2 187.2,499.9 188.5,499 189.8,497.6 191,499.1 192.2,497.2 193.5,494.6 194.8,500.5 196,497.5 197.2,498.7 198.5,494.3 199.8,497.5 201,497.4 202.2,497 203.5,493.4 204.8,489.3 206,490 207.2,483.1 208.5,482.7 209.8,486.2 211,481.4 212.2,482.4 213.5,480.8 214.8,486.2 216,482.2 217.2,475.1 218.5,478.5 219.8,467.9 221,467.3 222.2,470.8 223.5,456.9 224.8,459.3 226,450.6 227.2,456.1 228.5,462.7 229.8,443.8 231,447.3 232.2,435.7 233.5,430.2 234.8,426 236,446 237.2,451.9 238.5,432.1 239.8,417.5 241,428.6 242.2,414.6 243.5,423.8 244.8,415 246,412 247.2,413.2 248.5,395.8 249.8,395 251,375.6 252.2,389.2 253.5,375.4 254.8,389.8 256,378.2 257.2,389.8 258.5,392.6 259.8,368.1 261,374 262.2,348.5 263.5,388.9 264.8,398.3 266,385.9 267.2,369.4 268.5,388.9 269.8,351.5 271,386.3 272.2,360.4 273.5,334.8 274.8,398.3 276,385.2 277.2,354 278.5,367.6 279.8,362.6 281,366.2 282.2,347.6 283.5,357 284.8,370.5 286,367.6 287.2,379 288.5,340 289.8,392.5 291,357.9 292.2,371 293.5,346.9 294.8,356.3 296,388.7 297.2,363.1 298.5,382.4 299.8,376.9 301,366.5 302.2,376.5 303.5,375.9 304.8,377.7 306,394.5 307.2,394.7 308.5,381.1 309.8,378.4 311,350 312.2,393.7 313.5,410.7 314.8,434.2 316,414 317.2,405.5 318.5,406.5 319.8,400.3 321,402.9 322.2,404.9 323.5,416 324.8,418.9 326,437 327.2,425.8 328.5,431.6 329.8,422.1 331,460.7 332.2,449.2 333.5,467.8 334.8,458.2 336,469.4 337.2,450.9 338.5,465.4 339.8,492.1 341,447.1 342.2,478.1 343.5,485.9 344.8,473.2 346,479 347.2,486.2 348.5,468.7 349.8,481.5 351,471.5 352.2,475.4 353.5,478 354.8,484 356,488.1 357.2,492.2 358.5,480.5 359.8,503.4 361,499.9 362.2,498.2 363.5,493.8 364.8,496.4 366,499.5 367.2,499.3 368.5,491.8 369.8,501.1 371,503.4 372.2,493.2 373.5,502.6 374.8,500.9 376,499.7 377.2,503.4 378.5,497.3 379.8,501.2 381,503.4 382.2,500.8 383.5,500.7 384.8,501.9 386,501.4 387.2,503.4 388.5,501.7 389.8,503.3 391,502.3 392.2,503.3 393.5,503.2 394.8,503.3 396,503.4 397.2,503.4 398.5,503.4 399.8,503.4 401,503.4 402.2,503.4 403.5,503.4 404.8,503.4 406,503.4 407.2,503.4 408.5,503.4 409.8,503.4 411,499.5 412.2,503.4 413.5,503.4 414.8,503.4 416,503.4 417.2,503.4 418.5,503.4 419.8,503.4 421,503.4 422.2,503.4 423.5,503.4 424.8,503.4 426,503.4 427.2,503.4 428.5,503.4 429.8,503.4 431,503.4 432.2,503.4 433.5,503.4 434.8,503.4 436,503.4 437.2,503.4 438.5,503.4 439.8,503.4 441,503.4 442.2,503.4 443.5,503.4 444.8,503.4 446,503.4 447.2,503.4 448.5,503.4 449.8,503.4 451,503.4 452.2,503.4 453.5,503.4 454.8,503.4 456,503.4 457.2,503.4 458.5,503.4 459.8,503.4 461,503.4 462.2,503.4 463.5,503.4" fill="none" stroke="#1fb079" stroke-width="1.1" stroke-linejoin="round" opacity="1"/>
<rect x="53.1" y="396.4" width="3.3" height="108" fill="#d22126"/>
<rect x="53.1" y="429" width="3.3" height="75" fill="#2626d2"/>
<rect x="53.1" y="451" width="3.3" height="13" fill="#1fb079"/>
<rect x="53.1" y="477" width="3.3" height="27" fill="#1fb079"/>
<path d="M380 503.1H465" stroke="#1fb079" stroke-width="1.4"/>
</svg></body></html>
